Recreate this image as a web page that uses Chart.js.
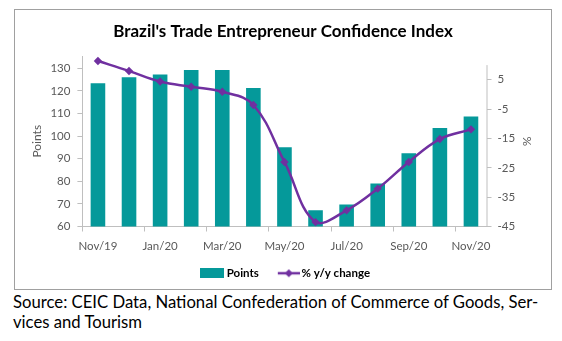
<!DOCTYPE html>
<html>
<head>
<meta charset="utf-8">
<script src="https://cdn.jsdelivr.net/npm/chart.js@4.4.1/dist/chart.umd.min.js"></script>
<style>
  html, body { margin: 0; padding: 0; background: #ffffff; }
  body { width: 562px; height: 341px; position: relative; overflow: hidden; }
  #frame {
    position: absolute; left: 14px; top: 9px; width: 536px; height: 279px;
    border: 1px solid #a0a0a0; background: #ffffff;
  }
  #chart { position: absolute; left: 0; top: 0; }
  #source {
    position: absolute; left: 13px; top: 293px;
    font-family: Lato, "Open Sans", sans-serif; font-size: 16.7px; line-height: 19.5px;
    color: #000000; white-space: nowrap;
  }
</style>
</head>
<body>
<div id="frame"><canvas id="chart" width="536" height="279"></canvas></div>
<div id="source">Source: CEIC Data, National Confederation of Commerce of Goods, Ser-<br>vices and Tourism</div>
<script>
// Monthly data, Nov/19 – Nov/20
const months = ['Nov/19', 'Dec/19', 'Jan/20', 'Feb/20', 'Mar/20', 'Apr/20', 'May/20',
                'Jun/20', 'Jul/20', 'Aug/20', 'Sep/20', 'Oct/20', 'Nov/20'];
const points = [123.3, 126, 127.2, 129.2, 129.2, 121.3, 95, 67.2, 69.7, 79, 92.4, 103.6, 108.7];
const yoyChange = [11.4, 8, 4.4, 2.6, 0.9, -3.6, -23, -43.5, -39.5, -32.1, -23, -15.2, -11.9];
const leftTicks = [60, 70, 80, 90, 100, 110, 120, 130];
const rightTicks = [-45, -35, -25, -15, -5, 5];

const TEAL = '#05999a';
const PURPLE = '#7030a0';
const AXIS = '#bfbfbf';
const TICK_TEXT = '#595959';
const FONT = 'Lato, "Open Sans", sans-serif';

// Legend icons: a filled bar swatch and a line with a diamond marker
function makeIcon(kind) {
  const c = document.createElement('canvas');
  c.width = 33; c.height = 10;
  const g = c.getContext('2d');
  if (kind === 'bar') {
    g.fillStyle = TEAL;
    g.fillRect(8, 0, 24, 10);
  } else {
    g.strokeStyle = PURPLE; g.lineWidth = 2.5;
    g.beginPath(); g.moveTo(11, 5); g.lineTo(33, 5); g.stroke();
    g.fillStyle = PURPLE;
    g.beginPath(); g.moveTo(22, 1); g.lineTo(26, 5); g.lineTo(22, 9); g.lineTo(18, 5); g.closePath(); g.fill();
  }
  return c;
}
const legendIcons = [makeIcon('bar'), makeIcon('line')];

// Right axis line runs from its top value (10) down to the bottom
const rightAxisLine = {
  id: 'rightAxisLine',
  afterDatasetsDraw(chart) {
    const s = chart.scales.y1;
    const ctx = chart.ctx;
    ctx.save();
    ctx.strokeStyle = AXIS; ctx.lineWidth = 1;
    ctx.beginPath();
    ctx.moveTo(s.left + 0.5, s.getPixelForValue(10));
    ctx.lineTo(s.left + 0.5, chart.chartArea.bottom);
    ctx.stroke();
    ctx.restore();
  }
};

new Chart(document.getElementById('chart'), {
  data: {
    labels: months,
    datasets: [
      {
        type: 'bar', label: 'Points', data: points, yAxisID: 'y',
        backgroundColor: TEAL, borderWidth: 0,
        categoryPercentage: 1, barPercentage: 0.47, order: 2
      },
      {
        type: 'line', label: '% y/y change', data: yoyChange, yAxisID: 'y1',
        borderColor: PURPLE, backgroundColor: PURPLE, borderWidth: 2.5,
        tension: 0.4, pointStyle: 'rectRot', pointRadius: 4.2, pointBorderWidth: 0,
        pointBackgroundColor: PURPLE, clip: false, order: 1
      }
    ]
  },
  plugins: [rightAxisLine],
  options: {
    responsive: false, animation: false, events: [],
    layout: { padding: 0 },
    plugins: {
      tooltip: { enabled: false },
      title: {
        display: true, text: "Brazil's Trade Entrepreneur Confidence Index",
        color: '#000000', font: { family: FONT, size: 17, weight: 'bold', lineHeight: 1.2 },
        padding: { top: 11, bottom: 14.6 }
      },
      legend: {
        position: 'bottom',
        labels: {
          usePointStyle: true, pointStyleWidth: 25, boxHeight: 10, padding: 12,
          color: '#000000', font: { family: FONT, size: 11.5, weight: 'bold' },
          generateLabels(chart) {
            return chart.data.datasets.map((ds, i) => ({
              text: ds.label, datasetIndex: i, pointStyle: legendIcons[i],
              fillStyle: ds.backgroundColor, strokeStyle: ds.backgroundColor,
              lineWidth: 0, hidden: false, fontColor: '#000000'
            }));
          }
        }
      }
    },
    scales: {
      x: {
        type: 'category', offset: true,
        grid: {
          display: true, drawOnChartArea: false, drawTicks: true, offset: true, tickLength: 5,
          tickColor: (c) => (c.index % 2 === 0 ? AXIS : 'rgba(0,0,0,0)')
        },
        border: { display: true, color: AXIS },
        ticks: {
          color: TICK_TEXT, font: { family: FONT, size: 11.5 }, padding: 7.5,
          maxRotation: 0, autoSkip: false,
          callback(v, i) { return i % 2 === 0 ? months[i] : ''; }
        },
        afterFit(s) { s.height = 29; }
      },
      y: {
        type: 'linear', position: 'left', min: 60, max: 135.4,
        afterBuildTicks(s) { s.ticks = leftTicks.map(v => ({ value: v })); },
        grid: { display: true, drawOnChartArea: false, drawTicks: true, tickLength: 5, tickColor: AXIS },
        border: { display: true, color: AXIS },
        ticks: { color: TICK_TEXT, font: { family: FONT, size: 11.5 }, padding: 7 },
        title: {
          display: true, text: 'Points', color: TICK_TEXT,
          font: { family: FONT, size: 12, lineHeight: 1.2 }, padding: { top: 15 }
        },
        afterFit(s) { s.width = 67.4; }
      },
      y1: {
        type: 'linear', position: 'right', min: -45, max: 13.1,
        afterBuildTicks(s) { s.ticks = rightTicks.map(v => ({ value: v })); },
        grid: { display: true, drawOnChartArea: false, drawTicks: true, tickLength: 5, tickColor: AXIS },
        border: { display: false },
        ticks: { color: TICK_TEXT, font: { family: FONT, size: 11.5 }, padding: 6 },
        title: {
          display: true, text: '%', color: TICK_TEXT,
          font: { family: FONT, size: 12, lineHeight: 1.2 }, padding: { top: 17 }
        },
        afterFit(s) { s.width = 64.5; }
      }
    }
  }
});
</script>
</body>
</html>
